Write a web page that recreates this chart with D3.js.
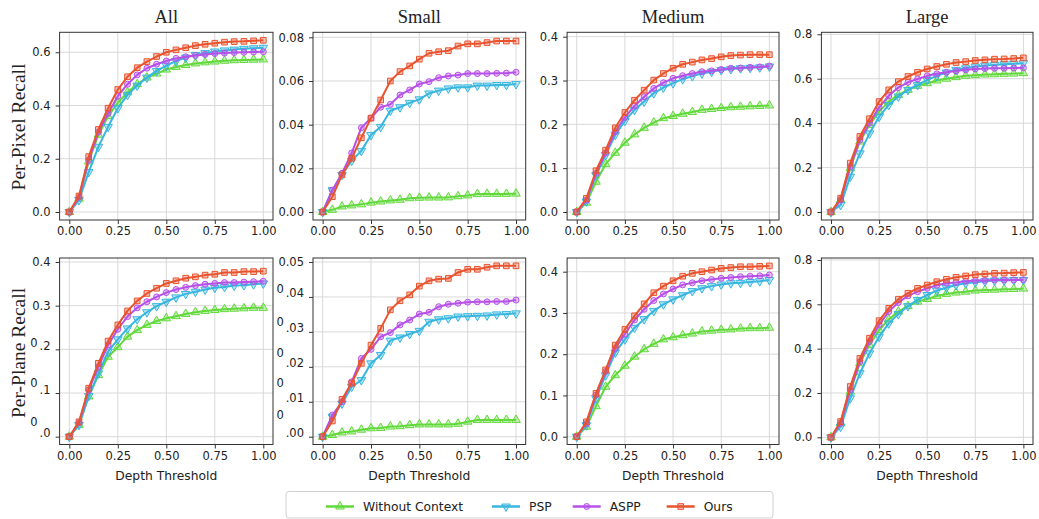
<!DOCTYPE html>
<html>
<head>
<meta charset="utf-8">
<script src="https://cdn.jsdelivr.net/npm/d3@7/dist/d3.min.js"></script>
<style>
  body { margin: 0; background: #fff; }
  svg text { font-family: "DejaVu Sans", sans-serif; fill: #222; }
  .serif { font-family: "Liberation Serif", "DejaVu Serif", serif; }
</style>
</head>
<body>
<svg id="chart" width="1039" height="519"></svg>
<script>
// depth thresholds (x values)
const thresholds = [0, 0.05, 0.10, 0.15, 0.20, 0.25, 0.30, 0.35, 0.40, 0.45, 0.50,
                    0.55, 0.60, 0.65, 0.70, 0.75, 0.80, 0.85, 0.90, 0.95, 1.00];

const methods = ["Without Context", "PSP", "ASPP", "Ours"];
const columns = ["All", "Small", "Medium", "Large"];
const rowLabels = ["Per-Pixel Recall", "Per-Plane Recall"];
const xTicks = [0, 0.25, 0.5, 0.75, 1.0];

// Per-Pixel Recall
const pixelAllWithout = [0, 0.05, 0.19, 0.29, 0.36, 0.41, 0.45, 0.48, 0.505, 0.52, 0.535, 0.545, 0.552, 0.558, 0.562, 0.565, 0.568, 0.57, 0.571, 0.572, 0.573];
const pixelAllPSP     = [0, 0.045, 0.15, 0.245, 0.32, 0.39, 0.44, 0.475, 0.505, 0.53, 0.55, 0.567, 0.58, 0.59, 0.597, 0.603, 0.607, 0.61, 0.613, 0.615, 0.617];
const pixelAllASPP    = [0, 0.055, 0.195, 0.30, 0.37, 0.435, 0.48, 0.515, 0.54, 0.555, 0.567, 0.577, 0.583, 0.588, 0.592, 0.595, 0.597, 0.599, 0.600, 0.601, 0.602];
const pixelAllOurs    = [0, 0.06, 0.208, 0.31, 0.39, 0.46, 0.508, 0.542, 0.565, 0.584, 0.60, 0.609, 0.617, 0.625, 0.63, 0.634, 0.638, 0.64, 0.641, 0.643, 0.645];

const pixelSmallWithout = [0, 0.001, 0.0025, 0.003, 0.0035, 0.0043, 0.0048, 0.0053, 0.0056, 0.0063, 0.0065, 0.0066, 0.0066, 0.0067, 0.0072, 0.0076, 0.0082, 0.0083, 0.0083, 0.0083, 0.0084];
const pixelSmallPSP     = [0, 0.010, 0.017, 0.0235, 0.028, 0.0353, 0.039, 0.0464, 0.048, 0.050, 0.0516, 0.0543, 0.0556, 0.0566, 0.0571, 0.0571, 0.0579, 0.0579, 0.0582, 0.0582, 0.0586];
const pixelSmallASPP    = [0, 0.010, 0.0177, 0.027, 0.0386, 0.043, 0.048, 0.0493, 0.0536, 0.0559, 0.0586, 0.0597, 0.0615, 0.0623, 0.0627, 0.0634, 0.0634, 0.0634, 0.0635, 0.0636, 0.064];
const pixelSmallOurs    = [0, 0.007, 0.017, 0.0246, 0.034, 0.043, 0.0513, 0.060, 0.0643, 0.0669, 0.070, 0.0727, 0.0734, 0.0739, 0.076, 0.077, 0.077, 0.0776, 0.0783, 0.0783, 0.0783];

const pixelMediumWithout = [0, 0.021, 0.069, 0.109, 0.135, 0.158, 0.177, 0.192, 0.204, 0.214, 0.219, 0.224, 0.228, 0.233, 0.235, 0.237, 0.239, 0.240, 0.241, 0.242, 0.243];
const pixelMediumPSP     = [0, 0.024, 0.084, 0.13, 0.176, 0.208, 0.233, 0.252, 0.271, 0.284, 0.294, 0.303, 0.31, 0.316, 0.32, 0.324, 0.326, 0.328, 0.329, 0.33, 0.332];
const pixelMediumASPP    = [0, 0.027, 0.088, 0.135, 0.183, 0.216, 0.242, 0.263, 0.282, 0.295, 0.305, 0.311, 0.316, 0.32, 0.322, 0.325, 0.328, 0.3285, 0.33, 0.331, 0.333];
const pixelMediumOurs    = [0, 0.031, 0.094, 0.141, 0.192, 0.227, 0.255, 0.278, 0.301, 0.316, 0.328, 0.337, 0.342, 0.347, 0.35, 0.354, 0.357, 0.358, 0.359, 0.359, 0.359];

const pixelLargeWithout = [0, 0.054, 0.197, 0.317, 0.392, 0.452, 0.497, 0.527, 0.55, 0.568, 0.58, 0.592, 0.60, 0.607, 0.613, 0.616, 0.619, 0.62, 0.622, 0.623, 0.625];
const pixelLargePSP     = [0, 0.032, 0.159, 0.264, 0.354, 0.429, 0.482, 0.52, 0.55, 0.572, 0.595, 0.613, 0.628, 0.64, 0.647, 0.655, 0.659, 0.662, 0.665, 0.667, 0.67];
const pixelLargeASPP    = [0, 0.054, 0.204, 0.324, 0.40, 0.471, 0.523, 0.56, 0.584, 0.599, 0.613, 0.622, 0.629, 0.635, 0.64, 0.644, 0.646, 0.647, 0.647, 0.648, 0.649];
const pixelLargeOurs    = [0, 0.062, 0.22, 0.34, 0.42, 0.497, 0.55, 0.587, 0.61, 0.629, 0.644, 0.655, 0.665, 0.673, 0.677, 0.682, 0.685, 0.688, 0.689, 0.691, 0.694];

// Per-Plane Recall
const planeAllWithout = [0, 0.027, 0.092, 0.141, 0.183, 0.205, 0.229, 0.244, 0.256, 0.265, 0.271, 0.276, 0.281, 0.285, 0.288, 0.29, 0.292, 0.293, 0.294, 0.295, 0.295];
const planeAllPSP     = [0, 0.027, 0.093, 0.145, 0.195, 0.223, 0.248, 0.269, 0.285, 0.299, 0.309, 0.319, 0.327, 0.332, 0.337, 0.341, 0.343, 0.346, 0.347, 0.349, 0.351];
const planeAllASPP    = [0, 0.032, 0.107, 0.16, 0.21, 0.246, 0.275, 0.295, 0.309, 0.32, 0.33, 0.337, 0.342, 0.346, 0.349, 0.351, 0.353, 0.353, 0.354, 0.355, 0.356];
const planeAllOurs    = [0, 0.034, 0.111, 0.168, 0.219, 0.256, 0.288, 0.311, 0.328, 0.34, 0.351, 0.357, 0.363, 0.366, 0.37, 0.372, 0.376, 0.376, 0.378, 0.378, 0.379];

const planeSmallWithout = [0, 0.0005, 0.0012, 0.0015, 0.002, 0.0024, 0.0025, 0.0029, 0.003, 0.0033, 0.0035, 0.0035, 0.0035, 0.0035, 0.0037, 0.0043, 0.0048, 0.0048, 0.0048, 0.0048, 0.0048];
const planeSmallPSP     = [0, 0.0057, 0.0095, 0.0143, 0.0162, 0.021, 0.0234, 0.0275, 0.0284, 0.0294, 0.0303, 0.0329, 0.0336, 0.0339, 0.0344, 0.0345, 0.0346, 0.0347, 0.035, 0.0351, 0.0353];
const planeSmallASPP    = [0, 0.0062, 0.010, 0.0157, 0.0224, 0.025, 0.0286, 0.0298, 0.032, 0.0334, 0.0351, 0.0356, 0.0372, 0.0379, 0.0382, 0.0385, 0.0386, 0.0386, 0.0387, 0.0387, 0.0391];
const planeSmallOurs    = [0, 0.0045, 0.0107, 0.0153, 0.021, 0.0262, 0.031, 0.0363, 0.0389, 0.0406, 0.0431, 0.0446, 0.0451, 0.0453, 0.047, 0.0479, 0.0479, 0.0485, 0.0489, 0.0489, 0.0489];

const planeMediumWithout = [0, 0.024, 0.074, 0.121, 0.149, 0.172, 0.194, 0.212, 0.225, 0.236, 0.241, 0.246, 0.25, 0.255, 0.257, 0.259, 0.26, 0.262, 0.263, 0.263, 0.264];
const planeMediumPSP     = [0, 0.028, 0.093, 0.149, 0.204, 0.236, 0.264, 0.285, 0.305, 0.321, 0.333, 0.343, 0.353, 0.36, 0.365, 0.369, 0.372, 0.373, 0.375, 0.377, 0.38];
const planeMediumASPP    = [0, 0.032, 0.101, 0.158, 0.214, 0.249, 0.283, 0.309, 0.33, 0.346, 0.358, 0.368, 0.373, 0.378, 0.381, 0.384, 0.386, 0.388, 0.389, 0.39, 0.392];
const planeMediumOurs    = [0, 0.036, 0.105, 0.162, 0.222, 0.26, 0.293, 0.322, 0.349, 0.365, 0.378, 0.389, 0.396, 0.40, 0.404, 0.408, 0.41, 0.412, 0.412, 0.413, 0.414];

const planeLargeWithout = [0, 0.063, 0.206, 0.334, 0.417, 0.484, 0.532, 0.567, 0.592, 0.612, 0.624, 0.638, 0.647, 0.653, 0.657, 0.662, 0.665, 0.666, 0.668, 0.669, 0.671];
const planeLargePSP     = [0, 0.048, 0.176, 0.289, 0.379, 0.454, 0.514, 0.556, 0.592, 0.62, 0.642, 0.662, 0.675, 0.687, 0.695, 0.699, 0.704, 0.707, 0.708, 0.71, 0.71];
const planeLargeASPP    = [0, 0.063, 0.214, 0.341, 0.432, 0.507, 0.567, 0.608, 0.638, 0.657, 0.672, 0.686, 0.695, 0.699, 0.704, 0.707, 0.708, 0.71, 0.71, 0.71, 0.711];
const planeLargeOurs    = [0, 0.071, 0.229, 0.356, 0.447, 0.526, 0.582, 0.623, 0.65, 0.672, 0.687, 0.702, 0.713, 0.722, 0.728, 0.734, 0.737, 0.74, 0.741, 0.743, 0.744];

// y tick labels
const ticksTenth = [0, 0.1, 0.2, 0.3, 0.4];
const ticksFifth = [0, 0.2, 0.4, 0.6, 0.8];
const ticksAllPixel = [0, 0.2, 0.4, 0.6];
const ticksSmallPixel = [0, 0.02, 0.04, 0.06, 0.08];
const ticksSmallPlane = [0, 0.01, 0.02, 0.03, 0.04, 0.05];
// the leading "0" of some labels sits raised in the source figure
const planeAllTickLift = [11, 7, 3, 0, 0];
const planeSmallTickLift = [18, 15, 10, 6, 4, 0];

const colors = ["#62d93b", "#38b6df", "#b750e8", "#e9532d"];
const symbols = [d3.symbolTriangle, "triangleDown", d3.symbolCircle, d3.symbolSquare];

// layout
const colFrames = [[59.6, 273], [313, 525.7], [567.1, 779], [821.4, 1033]];
const rowFrames = [[32.3, 220], [258, 444.5]];

const panels = [
  { row: 0, col: 0, series: [pixelAllWithout, pixelAllPSP, pixelAllASPP, pixelAllOurs], yDomain: [-0.030, 0.675], yTicks: ticksAllPixel, fmt: ".1f" },
  { row: 0, col: 1, series: [pixelSmallWithout, pixelSmallPSP, pixelSmallASPP, pixelSmallOurs], yDomain: [-0.00366, 0.0823], yTicks: ticksSmallPixel, fmt: ".2f" },
  { row: 0, col: 2, series: [pixelMediumWithout, pixelMediumPSP, pixelMediumASPP, pixelMediumOurs], yDomain: [-0.0183, 0.410], yTicks: ticksTenth, fmt: ".1f" },
  { row: 0, col: 3, series: [pixelLargeWithout, pixelLargePSP, pixelLargeASPP, pixelLargeOurs], yDomain: [-0.036, 0.809], yTicks: ticksFifth, fmt: ".1f" },
  { row: 1, col: 0, series: [planeAllWithout, planeAllPSP, planeAllASPP, planeAllOurs], yDomain: [-0.0179, 0.4092], yTicks: ticksTenth, fmt: ".1f", lift: planeAllTickLift },
  { row: 1, col: 1, series: [planeSmallWithout, planeSmallPSP, planeSmallASPP, planeSmallOurs], yDomain: [-0.00223, 0.05114], yTicks: ticksSmallPlane, fmt: ".2f", lift: planeSmallTickLift },
  { row: 1, col: 2, series: [planeMediumWithout, planeMediumPSP, planeMediumASPP, planeMediumOurs], yDomain: [-0.0189, 0.4332], yTicks: ticksTenth, fmt: ".1f" },
  { row: 1, col: 3, series: [planeLargeWithout, planeLargePSP, planeLargeASPP, planeLargeOurs], yDomain: [-0.0325, 0.809], yTicks: ticksFifth, fmt: ".1f" }
];

const svg = d3.select("#chart");
svg.append("rect").attr("width", 1039).attr("height", 519).attr("fill", "#fff");

function markerPath(sym, size) {
  if (sym === "triangleDown") {
    return d3.symbol().type(d3.symbolTriangle).size(size)();
  }
  return d3.symbol().type(sym).size(size)();
}

function drawMarker(g, i, x, y) {
  const p = g.append("path")
    .attr("d", markerPath(symbols[i], i === 2 ? 28 : 32))
    .attr("fill", colors[i])
    .attr("fill-opacity", 0.35)
    .attr("stroke", colors[i])
    .attr("stroke-width", 1);
  p.attr("transform", `translate(${x},${y})` + (symbols[i] === "triangleDown" ? " rotate(180)" : ""));
  return p;
}

panels.forEach(p => {
  const [x0, x1] = colFrames[p.col];
  const [y0, y1] = rowFrames[p.row];
  const x = d3.scaleLinear().domain([-0.05, 1.05]).range([x0, x1]);
  const y = d3.scaleLinear().domain(p.yDomain).range([y1, y0]);
  const g = svg.append("g");

  // grid
  g.selectAll(".gx").data(xTicks).enter().append("line")
    .attr("x1", d => x(d)).attr("x2", d => x(d))
    .attr("y1", y0).attr("y2", y1)
    .attr("stroke", "#d9d9d9").attr("stroke-width", 1);
  g.selectAll(".gy").data(p.yTicks).enter().append("line")
    .attr("x1", x0).attr("x2", x1)
    .attr("y1", d => y(d)).attr("y2", d => y(d))
    .attr("stroke", "#d9d9d9").attr("stroke-width", 1);

  // axes
  const xa = g.append("g").attr("transform", `translate(0,${y1})`)
    .call(d3.axisBottom(x).tickValues(xTicks).tickFormat(d3.format(".2f")).tickSize(4).tickPadding(3));
  const ya = g.append("g").attr("transform", `translate(${x0},0)`)
    .call(d3.axisLeft(y).tickValues(p.yTicks).tickFormat(d3.format(p.fmt)).tickSize(4).tickPadding(5));
  [xa, ya].forEach(a => {
    a.select(".domain").remove();
    a.selectAll("line").attr("stroke", "#333");
    a.selectAll("text").style("font-size", "11.5px").attr("fill", "#222");
  });

  if (p.lift) {
    const f = d3.format(p.fmt);
    ya.selectAll("text").each(function(d, i) {
      const s = p.lift[i];
      if (!s) return;
      const label = f(d);
      const t = d3.select(this).text(null);
      t.append("tspan").attr("dy", -s).text(label[0]);
      t.append("tspan").attr("dy", s).attr("dx", 2).text(label.slice(1));
    });
  }

  // lines and markers
  p.series.forEach((vals, i) => {
    const line = d3.line().x((d, k) => x(thresholds[k])).y(d => y(d));
    g.append("path").datum(vals)
      .attr("d", line)
      .attr("fill", "none")
      .attr("stroke", colors[i])
      .attr("stroke-width", 2)
      .attr("stroke-linejoin", "round");
    vals.forEach((v, k) => drawMarker(g, i, x(thresholds[k]), y(v)));
  });

  // frame
  g.append("rect")
    .attr("x", x0).attr("y", y0)
    .attr("width", x1 - x0).attr("height", y1 - y0)
    .attr("fill", "none").attr("stroke", "#333").attr("stroke-width", 1);

  if (p.row === 0) {
    g.append("text").attr("class", "serif")
      .attr("x", (x0 + x1) / 2).attr("y", 23)
      .attr("text-anchor", "middle")
      .style("font-size", "18.5px")
      .text(columns[p.col]);
  } else {
    g.append("text")
      .attr("x", (x0 + x1) / 2).attr("y", 479.5)
      .attr("text-anchor", "middle")
      .style("font-size", "12.3px")
      .text("Depth Threshold");
  }
});

// row labels
[127, 353].forEach((cy, r) => {
  svg.append("text").attr("class", "serif")
    .attr("transform", `translate(25,${cy}) rotate(-90)`)
    .attr("text-anchor", "middle")
    .style("font-size", "19.5px")
    .text(rowLabels[r]);
});

// legend
const legend = svg.append("g");
legend.append("rect")
  .attr("x", 286).attr("y", 491.5).attr("width", 487).attr("height", 26.5)
  .attr("rx", 3).attr("fill", "#fff").attr("stroke", "#d0d0d0");
const legendX = [326, 492, 572.7, 666.7];
methods.forEach((m, i) => {
  const lx = legendX[i];
  legend.append("line")
    .attr("x1", lx).attr("x2", lx + 28)
    .attr("y1", 506.5).attr("y2", 506.5)
    .attr("stroke", colors[i]).attr("stroke-width", 2.5);
  drawMarker(legend, i, lx + 14, 506.5);
  legend.append("text")
    .attr("x", lx + 37).attr("y", 506.5)
    .attr("dy", "0.35em")
    .style("font-size", "12.3px")
    .text(m);
});
</script>
</body>
</html>
